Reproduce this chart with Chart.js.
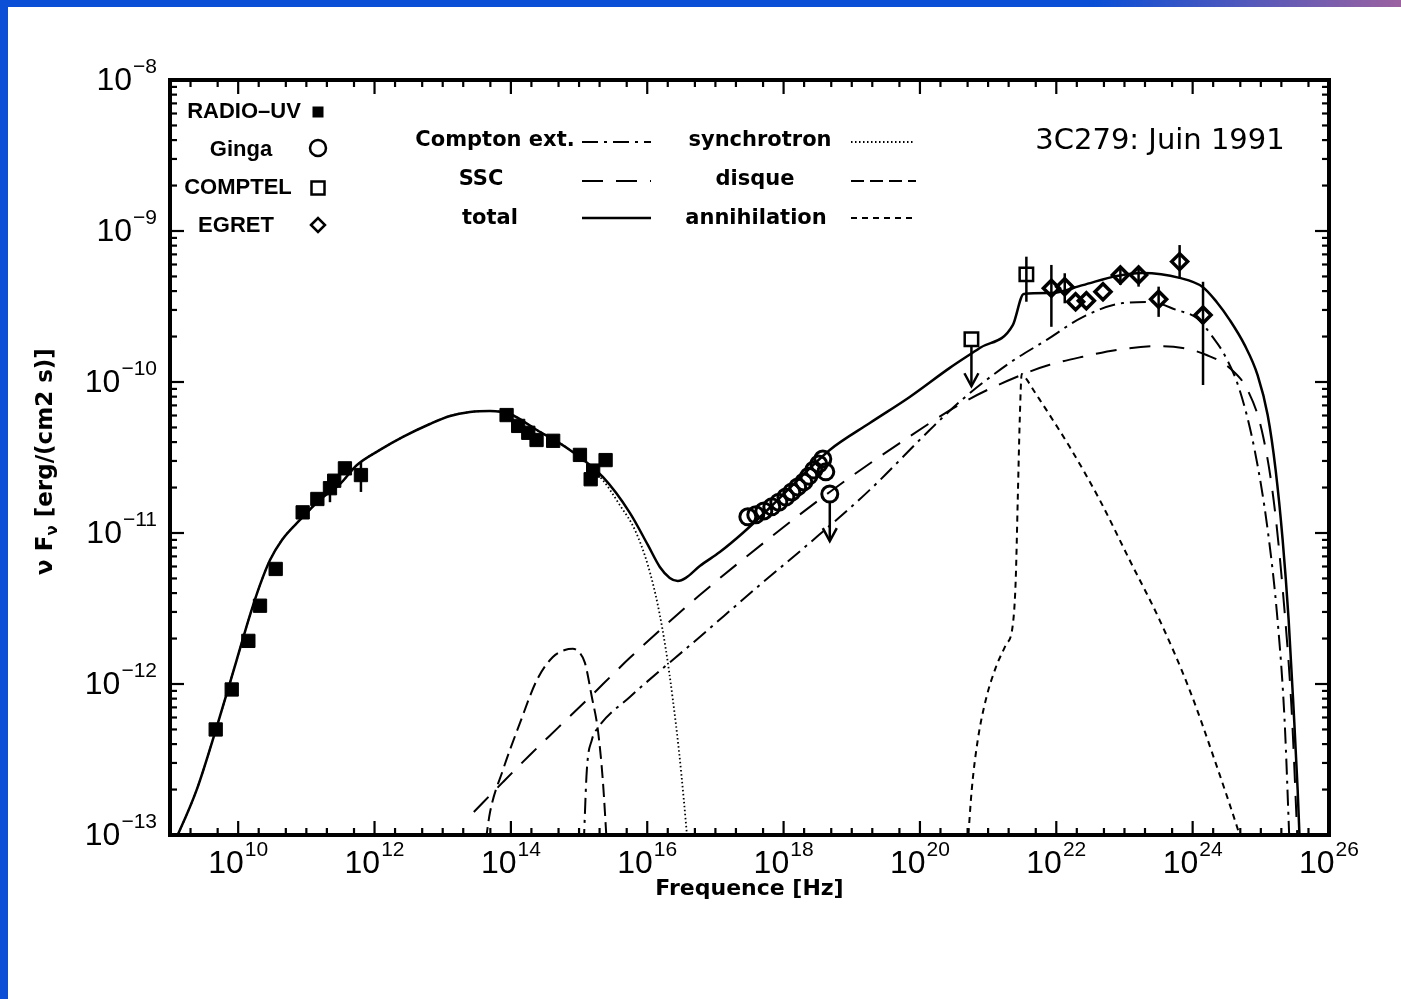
<!DOCTYPE html>
<html>
<head>
<meta charset="utf-8">
<title>3C279: Juin 1991</title>
<script src="https://cdn.jsdelivr.net/npm/chart.js@4.4.1/dist/chart.umd.min.js"></script>
<style>
  html, body { margin: 0; padding: 0; background: #fff; overflow: hidden; }
  canvas { display: block; }
</style>
</head>
<body>
<canvas id="sed" width="1401" height="999"></canvas>
<script>
// Spectral energy distribution of 3C279, June 1991.
// Frequencies in Hz, nu F_nu in erg/(cm2 s).

// axis limits and labelled powers of ten
const xMin = 1e9, xMax = 1e26;
const yMin = 1e-13, yMax = 1e-8;
const xLabelExps = [10, 12, 14, 16, 18, 20, 22, 24, 26];
const yLabelExps = [-8, -9, -10, -11, -12, -13];

// RADIO-UV measurements
const radioNu = [4.68e9, 8.04e9, 1.41e10, 2.09e10, 3.55e10, 8.83e10, 1.45e11, 2.22e11, 2.56e11, 3.68e11,
                 6.32e11, 8.65e13, 1.28e14, 1.80e14, 2.38e14, 4.17e14, 1.03e15, 1.48e15, 1.61e15, 2.45e15];
const radioF  = [5.0e-13, 9.2e-13, 1.93e-12, 3.30e-12, 5.78e-12, 1.37e-11, 1.68e-11, 1.98e-11, 2.22e-11, 2.68e-11,
                 2.42e-11, 6.04e-11, 5.12e-11, 4.61e-11, 4.13e-11, 4.08e-11, 3.29e-11, 2.27e-11, 2.59e-11, 3.04e-11];
const radioLo = [null, null, null, null, null, null, null, 1.60e-11, null, null,
                 1.87e-11, null, null, null, null, null, null, null, null, null];
const radioHi = [null, null, null, null, null, null, null, 2.24e-11, null, null,
                 2.95e-11, null, null, null, null, null, null, null, null, null];

// Ginga X-ray spectrum
const gingaNu = [2.99e17, 3.91e17, 5.13e17, 6.71e17, 8.51e17, 1.08e18, 1.32e18, 1.61e18, 1.98e18, 2.34e18,
                 2.77e18, 3.28e18, 3.76e18, 4.16e18];
const gingaF  = [1.28e-11, 1.32e-11, 1.40e-11, 1.49e-11, 1.60e-11, 1.73e-11, 1.87e-11, 2.02e-11, 2.18e-11, 2.38e-11,
                 2.61e-11, 2.86e-11, 3.09e-11, 2.54e-11];
const gingaLimNu = [4.76e18];
const gingaLimF  = [1.81e-11];

// COMPTEL
const comptelNu = [3.64e21];
const comptelF  = [5.16e-10];
const comptelLo = [3.40e-10];
const comptelHi = [6.76e-10];
const comptelLimNu = [5.69e20];
const comptelLimF  = [1.92e-10];

// EGRET
const egretNu = [8.47e21, 1.33e22, 1.92e22, 2.76e22, 4.84e22, 8.71e22, 1.61e23, 3.17e23, 6.44e23, 1.42e24];
const egretF  = [4.18e-10, 4.28e-10, 3.40e-10, 3.45e-10, 3.96e-10, 5.12e-10, 5.12e-10, 3.53e-10, 6.27e-10, 2.78e-10];
const egretLo = [2.32e-10, 3.32e-10, null, null, null, 4.39e-10, 4.28e-10, 2.70e-10, 4.86e-10, 9.55e-11];
const egretHi = [5.96e-10, 5.25e-10, null, null, null, 5.69e-10, 5.69e-10, 4.28e-10, 8.07e-10, 4.61e-10];

// model components
const totalNu = [1.07e9, 2.46e9, 4.84e9, 9.5e9, 1.49e10, 2.09e10, 2.93e10, 4.39e10, 8.05e10, 1.58e11,
                 3.11e11, 5.52e11, 1.20e12, 2.61e12, 6.48e12, 1.28e13, 2.51e13, 4.92e13, 9.67e13, 2.40e14,
                 7.33e14, 2.23e15, 5.56e15, 1.02e16, 1.53e16, 2.14e16, 2.81e16, 3.68e16, 5.90e16, 1.16e17,
                 2.52e17, 6.28e17, 1.73e18, 4.76e18, 1.84e19, 7.08e19, 2.74e20, 7.53e20, 2.30e21, 3.33e21,
                 8.57e21, 2.44e22, 7.69e22, 1.85e23, 6.44e23, 1.40e24, 2.25e24, 3.49e24, 5.78e24, 8.97e24,
                 1.26e25, 1.65e25, 2.09e25, 2.56e25, 3.03e25, 3.47e25, 3.71e25];
const totalF  = [8.2e-14, 1.99e-13, 5.19e-13, 1.44e-12, 2.86e-12, 4.53e-12, 6.62e-12, 9.0e-12, 1.22e-11, 1.66e-11,
                 2.11e-11, 2.82e-11, 3.55e-11, 4.33e-11, 5.27e-11, 5.96e-11, 6.33e-11, 6.43e-11, 6.14e-11, 4.81e-11,
                 3.55e-11, 2.35e-11, 1.36e-11, 8.34e-12, 5.96e-12, 5.04e-12, 4.81e-12, 5.04e-12, 6.04e-12, 7.48e-12,
                 1.0e-11, 1.47e-11, 2.31e-11, 3.55e-11, 5.35e-11, 7.96e-11, 1.24e-10, 1.68e-10, 2.38e-10, 3.83e-10,
                 3.88e-10, 4.38e-10, 5.04e-10, 5.27e-10, 4.89e-10, 4.26e-10, 3.39e-10, 2.58e-10, 1.76e-10, 1.11e-10,
                 6.04e-11, 2.61e-11, 9.0e-12, 2.65e-12, 6.73e-13, 1.99e-13, 9.27e-14];

const syncNu = [1.07e9, 2.46e9, 4.84e9, 9.5e9, 1.49e10, 2.09e10, 2.93e10, 4.39e10, 8.05e10, 1.58e11,
                3.11e11, 5.52e11, 1.20e12, 2.61e12, 6.48e12, 1.28e13, 2.51e13, 4.92e13, 9.67e13, 2.40e14,
                7.33e14, 2.23e15, 3.96e15, 6.58e15, 1.02e16, 1.43e16, 1.88e16, 2.38e16, 2.91e16, 3.44e16, 3.94e16];
const syncF  = [8.2e-14, 1.99e-13, 5.19e-13, 1.44e-12, 2.86e-12, 4.53e-12, 6.62e-12, 9.0e-12, 1.22e-11, 1.66e-11,
                2.11e-11, 2.82e-11, 3.55e-11, 4.33e-11, 5.27e-11, 5.96e-11, 6.33e-11, 6.43e-11, 6.14e-11, 4.81e-11,
                3.55e-11, 2.24e-11, 1.53e-11, 1.05e-11, 6.14e-12, 3.33e-12, 1.68e-12, 7.83e-13, 3.66e-13, 1.71e-13, 8.6e-14];

const diskNu = [4.30e13, 4.92e13, 7.64e13, 1.36e14, 2.40e14, 4.13e14, 6.19e14, 8.11e14, 1.03e15, 1.22e15,
                1.54e15, 1.89e15, 2.23e15, 2.56e15];
const diskF  = [9.27e-14, 1.40e-13, 2.69e-13, 5.52e-13, 1.06e-12, 1.51e-12, 1.68e-12, 1.71e-12, 1.60e-12, 1.38e-12,
                8.2e-13, 4.95e-13, 2.31e-13, 8.6e-14];

const extNu = [1.17e15, 1.30e15, 1.54e15, 1.89e15, 5.56e15, 5.90e16, 4.48e17, 2.42e18, 1.84e19, 1.39e20,
               4.25e20, 2.08e21, 7.23e21, 2.44e22, 9.42e22, 2.34e23, 5.82e23, 1.15e24, 1.96e24, 2.94e24,
               4.89e24, 8.11e24, 1.26e25, 1.76e25, 2.23e25, 2.64e25];
const extF  = [8.6e-14, 2.69e-13, 4.26e-13, 5.12e-13, 8.2e-13, 2.05e-12, 4.53e-12, 8.6e-12, 1.93e-11, 4.81e-11,
               7.71e-11, 1.34e-10, 1.90e-10, 2.69e-10, 3.33e-10, 3.39e-10, 3.00e-10, 2.65e-10, 1.99e-10, 1.51e-10,
               8.85e-11, 3.55e-11, 1.05e-11, 2.65e-12, 5.78e-13, 8.6e-14];

const sscNu = [2.86e13, 7.64e13, 1.90e14, 4.89e14, 1.30e15, 5.56e15, 5.90e16, 6.28e17, 4.76e18, 5.06e19,
               5.02e20, 3.68e21, 8.0e21, 2.44e22, 7.69e22, 2.97e23, 7.13e23, 1.60e24, 3.49e24, 6.40e24,
               1.03e25, 1.54e25, 2.16e25, 2.83e25, 3.47e25];
const sscF  = [1.42e-13, 2.24e-13, 3.39e-13, 5.12e-13, 7.83e-13, 1.49e-12, 3.88e-12, 9.27e-12, 1.87e-11, 3.94e-11,
               7.60e-11, 1.15e-10, 1.30e-10, 1.47e-10, 1.63e-10, 1.73e-10, 1.68e-10, 1.51e-10, 1.24e-10, 8.85e-11,
               4.81e-11, 1.66e-11, 3.6e-12, 6.73e-13, 8.6e-14];

const annNu = [5.02e20, 5.75e20, 7.05e20, 9.23e20, 1.29e21, 1.81e21, 2.30e21, 2.54e21, 2.72e21, 2.91e21,
               3.11e21, 3.56e21, 4.82e21, 8.0e21, 1.57e22, 4.32e22, 1.19e23, 3.28e23, 9.04e23, 2.10e24,
               4.89e24, 5.41e24];
const annF  = [8.6e-14, 1.99e-13, 4.26e-13, 7.83e-13, 1.28e-12, 1.81e-12, 2.46e-12, 4.89e-12, 1.66e-11, 5.6e-11,
               1.13e-10, 1.06e-10, 8.59e-11, 6.04e-11, 3.72e-11, 1.66e-11, 6.62e-12, 2.65e-12, 9.12e-13, 3.14e-13,
               1.0e-13, 8.6e-14];

// line styles of the model components
const DASH = {
  ext:  [16, 6, 3, 6],
  ssc:  [21, 13],
  total: [],
  sync: [1.5, 2.5],
  disk: [13, 6],
  ann:  [6, 5]
};

const pts = (xs, ys) => xs.map((v, i) => ({ x: v, y: ys[i] }));

function curve(label, xs, ys, dash, width) {
  return {
    label, type: 'line', data: pts(xs, ys),
    borderColor: '#000', borderWidth: width, borderDash: dash,
    pointRadius: 0, fill: false, cubicInterpolationMode: 'monotone', order: 2
  };
}
function marks(label, xs, ys, style, radius, filled, width) {
  return {
    label, type: 'scatter', data: pts(xs, ys), showLine: false,
    pointStyle: style, pointRadius: radius, pointHoverRadius: radius,
    backgroundColor: filled ? '#000' : 'rgba(0,0,0,0)', borderColor: '#000', borderWidth: width, order: 1
  };
}

const FONT_NUM = '"Liberation Sans", Arial, sans-serif';
const FONT_TXT = '"DejaVu Sans", sans-serif';
const FONT_LEG = '"Liberation Sans", Arial, sans-serif';

function drawPower(ctx, exp, cx, cy, anchor) {
  const base = '10';
  const sup = exp < 0 ? '\u2212' + (-exp) : String(exp);
  ctx.font = '32px ' + FONT_NUM;
  const wb = ctx.measureText(base).width;
  ctx.font = '21px ' + FONT_NUM;
  const ws = ctx.measureText(sup).width;
  const w = wb + 1 + ws;
  const x0 = anchor === 'center' ? cx - w / 2 : cx - w;
  ctx.textAlign = 'left';
  ctx.textBaseline = 'middle';
  ctx.font = '32px ' + FONT_NUM;
  ctx.fillText(base, x0, cy);
  ctx.font = '21px ' + FONT_NUM;
  ctx.fillText(sup, x0 + wb + 1, cy - 14);
}

function seg(ctx, x1, y1, x2, y2) {
  ctx.beginPath(); ctx.moveTo(x1, y1); ctx.lineTo(x2, y2); ctx.stroke();
}

function legendMarker(ctx, kind, x, y) {
  ctx.save();
  ctx.strokeStyle = '#000'; ctx.fillStyle = '#000'; ctx.lineWidth = 2.5;
  ctx.beginPath();
  if (kind === 'fsquare') { ctx.fillRect(x - 5.5, y - 5.5, 11, 11); }
  else if (kind === 'circle') { ctx.arc(x, y, 8, 0, Math.PI * 2); ctx.stroke(); }
  else if (kind === 'square') { ctx.strokeRect(x - 6.5, y - 6.5, 13, 13); }
  else if (kind === 'diamond') {
    ctx.moveTo(x - 7, y); ctx.lineTo(x, y - 7); ctx.lineTo(x + 7, y); ctx.lineTo(x, y + 7); ctx.closePath(); ctx.stroke();
  }
  ctx.restore();
}

function legendLine(ctx, x1, x2, y, dash, width) {
  ctx.save();
  ctx.strokeStyle = '#000'; ctx.lineWidth = width; ctx.setLineDash(dash);
  seg(ctx, x1, y, x2, y);
  ctx.restore();
}

// page background and blue band
const pagePlugin = {
  id: 'page',
  beforeDraw(chart) {
    const { ctx, width, height } = chart;
    ctx.save();
    ctx.fillStyle = '#fff';
    ctx.fillRect(0, 0, width, height);
    ctx.fillStyle = '#0a4fd6';
    ctx.fillRect(0, 0, 8, height);
    const g = ctx.createLinearGradient(0, 0, width, 0);
    g.addColorStop(0, '#0a4fd6');
    g.addColorStop(0.78, '#0a4fd6');
    g.addColorStop(1, '#9c62a0');
    ctx.fillStyle = g;
    ctx.fillRect(0, 0, width, 7);
    ctx.restore();
  }
};

// error bars and upper-limit arrows
const errorPlugin = {
  id: 'errors',
  afterDatasetsDraw(chart) {
    const { ctx, scales: { x, y } } = chart;
    ctx.save();
    ctx.strokeStyle = '#000';
    ctx.lineWidth = 2.5;
    const bar = (nu, lo, hi) => {
      const px = x.getPixelForValue(nu);
      seg(ctx, px, y.getPixelForValue(hi), px, y.getPixelForValue(lo));
    };
    radioNu.forEach((nu, i) => { if (radioLo[i] !== null) bar(nu, radioLo[i], radioHi[i]); });
    comptelNu.forEach((nu, i) => bar(nu, comptelLo[i], comptelHi[i]));
    egretNu.forEach((nu, i) => { if (egretLo[i] !== null) bar(nu, egretLo[i], egretHi[i]); });

    const arrow = (nu, f, start) => {
      const px = x.getPixelForValue(nu), py = y.getPixelForValue(f) + start;
      const tip = py + 47 - start;
      seg(ctx, px, py, px, tip);
      ctx.beginPath();
      ctx.moveTo(px - 7, tip - 13); ctx.lineTo(px, tip); ctx.lineTo(px + 7, tip - 13);
      ctx.stroke();
    };
    comptelLimNu.forEach((nu, i) => arrow(nu, comptelLimF[i], 7));
    gingaLimNu.forEach((nu, i) => arrow(nu, gingaLimF[i], 8));
    ctx.restore();
  }
};

// frame, ticks, tick labels, titles and in-plot legend
const framePlugin = {
  id: 'frame',
  afterDraw(chart) {
    const { ctx, chartArea: a, scales: { x, y } } = chart;
    ctx.save();
    ctx.strokeStyle = '#000';
    ctx.fillStyle = '#000';
    ctx.lineWidth = 2.2;
    ctx.setLineDash([]);

    const e0 = Math.round(Math.log10(xMin)), e1 = Math.round(Math.log10(xMax));
    for (let e = e0; e <= e1; e++) {
      for (const m of [1, 2, 5]) {
        const v = m * Math.pow(10, e);
        if (v > xMax * 1.0001 || v < xMin * 0.9999) continue;
        const px = x.getPixelForValue(v);
        const len = (m === 1 && e % 2 === 0) ? 14 : 7;
        seg(ctx, px, a.bottom, px, a.bottom - len);
        seg(ctx, px, a.top, px, a.top + len);
      }
    }
    const f0 = Math.round(Math.log10(yMin)), f1 = Math.round(Math.log10(yMax));
    for (let e = f0; e <= f1; e++) {
      for (let m = 1; m <= 9; m++) {
        const v = m * Math.pow(10, e);
        if (v > yMax * 1.0001) continue;
        const py = y.getPixelForValue(v);
        const len = m === 1 ? 14 : 7;
        seg(ctx, a.left, py, a.left + len, py);
        seg(ctx, a.right, py, a.right - len, py);
      }
    }

    ctx.lineWidth = 4;
    ctx.strokeRect(a.left, a.top, a.right - a.left, a.bottom - a.top);

    // tick labels
    xLabelExps.forEach(e => drawPower(ctx, e, x.getPixelForValue(Math.pow(10, e)), a.bottom + 29, 'center'));
    yLabelExps.forEach(e => drawPower(ctx, e, a.left - 13, y.getPixelForValue(Math.pow(10, e)) + 1, 'right'));

    // axis titles
    ctx.textBaseline = 'middle';
    ctx.textAlign = 'center';
    ctx.font = 'bold 22px ' + FONT_TXT;
    ctx.fillText('Frequence [Hz]', (a.left + a.right) / 2, 889);

    ctx.save();
    ctx.translate(46, (a.top + a.bottom) / 2 + 4);
    ctx.rotate(-Math.PI / 2);
    const big = 'bold 23px ' + FONT_TXT, small = 'bold 15px ' + FONT_TXT;
    const p1 = '\u03BD F', p2 = '\u03BD', p3 = ' [erg/(cm2 s)]';
    ctx.font = big; const w1 = ctx.measureText(p1).width, w3 = ctx.measureText(p3).width;
    ctx.font = small; const w2 = ctx.measureText(p2).width;
    let tx = -(w1 + w2 + w3) / 2;
    ctx.textAlign = 'left';
    ctx.font = big; ctx.fillText(p1, tx, 0); tx += w1;
    ctx.font = small; ctx.fillText(p2, tx, 7); tx += w2;
    ctx.font = big; ctx.fillText(p3, tx, 0);
    ctx.restore();

    // plot title
    ctx.textAlign = 'center';
    ctx.font = '29px ' + FONT_TXT;
    ctx.fillText('3C279: Juin 1991', 1160, 141);

    // instrument legend
    ctx.font = 'bold 22px ' + FONT_LEG;
    ctx.fillText('RADIO\u2013UV', 244, 112);
    ctx.fillText('Ginga', 241, 150);
    ctx.fillText('COMPTEL', 238, 188);
    ctx.fillText('EGRET', 236, 226);
    legendMarker(ctx, 'fsquare', 318, 112);
    legendMarker(ctx, 'circle', 318, 148);
    legendMarker(ctx, 'square', 318, 188);
    legendMarker(ctx, 'diamond', 318, 225);

    // model legend
    ctx.font = 'bold 21px ' + FONT_TXT;
    ctx.fillText('Compton ext.', 495, 141);
    ctx.fillText('SSC', 481, 180);
    ctx.fillText('total', 490, 219);
    ctx.fillText('synchrotron', 760, 141);
    ctx.fillText('disque', 755, 180);
    ctx.fillText('annihilation', 756, 219);
    legendLine(ctx, 582, 651, 142, DASH.ext, 2);
    legendLine(ctx, 582, 651, 181, DASH.ssc, 2);
    legendLine(ctx, 582, 651, 218, DASH.total, 2.5);
    legendLine(ctx, 851, 914, 142, DASH.sync, 1.8);
    legendLine(ctx, 851, 916, 181, DASH.disk, 2);
    legendLine(ctx, 851, 916, 218, DASH.ann, 2);

    ctx.restore();
  }
};

new Chart(document.getElementById('sed'), {
  type: 'scatter',
  data: {
    datasets: [
      curve('total', totalNu, totalF, DASH.total, 2.5),
      curve('synchrotron', syncNu, syncF, DASH.sync, 1.8),
      curve('disque', diskNu, diskF, DASH.disk, 2),
      curve('Compton ext.', extNu, extF, DASH.ext, 2),
      curve('SSC', sscNu, sscF, DASH.ssc, 2),
      curve('annihilation', annNu, annF, DASH.ann, 2),
      marks('RADIO-UV', radioNu, radioF, 'rect', 9.4, true, 1),
      marks('Ginga', gingaNu, gingaF, 'circle', 8, false, 3),
      marks('Ginga limite', gingaLimNu, gingaLimF, 'circle', 8, false, 3),
      marks('COMPTEL', comptelNu, comptelF, 'rect', 9.5, false, 2.5),
      marks('COMPTEL limite', comptelLimNu, comptelLimF, 'rect', 9.5, false, 2.5),
      marks('EGRET', egretNu, egretF, 'rectRot', 8, false, 3.5)
    ]
  },
  options: {
    responsive: false,
    animation: false,
    devicePixelRatio: 1,
    layout: { padding: { left: 170, top: 80, right: 72, bottom: 164 } },
    scales: {
      x: { type: 'logarithmic', min: xMin, max: xMax, display: false },
      y: { type: 'logarithmic', min: yMin, max: yMax, display: false }
    },
    plugins: { legend: { display: false }, tooltip: { enabled: false } },
    events: []
  },
  plugins: [pagePlugin, errorPlugin, framePlugin]
});
</script>
</body>
</html>
